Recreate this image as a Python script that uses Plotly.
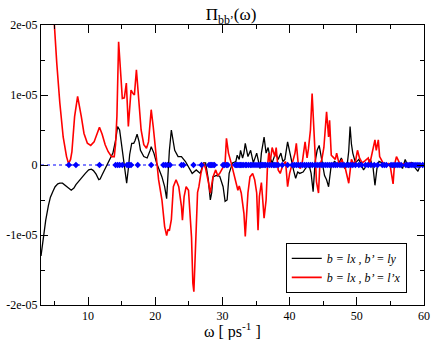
import numpy as np
import plotly.graph_objects as go

SCALE = 1e-6  # values below are in units of 1e-6

# b = lx , b' = ly  (black)
omega_black = [3.0, 3.4, 3.7, 4.1, 4.4, 4.8, 5.1, 5.5, 5.8, 6.2, 6.5, 7.0, 7.5, 7.9, 8.2, 8.7, 9.2, 9.6,
               10.1, 10.5, 10.8, 11.2, 11.6, 11.8, 12.1, 12.4, 13.0, 13.7, 14.1, 14.4, 14.7, 14.9, 15.2,
               15.5, 15.75, 16.0, 16.2, 16.5, 16.8, 17.0, 17.3, 17.6, 17.8, 18.3, 18.8, 19.25, 19.4, 19.8,
               20.2, 21.0, 21.4, 21.7, 21.9, 22.1, 22.4, 22.7, 22.9, 23.4, 23.9, 24.5, 25.0, 25.5, 26.1,
               26.7, 27.2, 27.5, 27.9, 28.2, 28.4, 28.6, 29.1, 29.6, 30.1, 30.4, 30.7, 31.0, 31.5, 32.0,
               32.2, 32.5, 32.7, 33.0, 33.2, 33.4, 33.8, 34.2, 34.6, 35.1, 35.6, 35.8, 36.2, 36.5, 36.8,
               37.1, 37.4, 37.9, 38.3, 38.7, 39.0, 39.3, 39.7, 40.2, 40.6, 40.9, 41.2, 41.5, 42.0, 42.5,
               42.9, 43.2, 43.5, 43.8, 44.1, 44.4, 44.8, 45.2, 45.5, 45.8, 46.2, 46.7, 47.2, 47.7, 48.2,
               48.6, 48.8, 49.0, 49.2, 49.4, 49.8, 50.3, 50.6, 51.0, 51.5, 52.0, 52.4, 52.7, 53.0, 53.3,
               53.8, 54.3, 54.8, 55.3, 55.8, 56.3, 56.8, 57.2, 57.7, 58.2, 58.6, 59.1, 59.5, 60.0]
pi_black = [-13.0, -10.0, -7.9, -5.8, -4.6, -3.7, -3.1, -2.7, -2.6, -2.6, -2.8, -3.2, -3.6, -3.3, -2.8,
            -2.2, -1.7, -1.2, -0.7, -0.6, -0.8, -1.3, -2.1, -2.0, -1.4, -0.8, 0.3, 1.7, 3.5, 5.5, 5.0,
            3.5, 1.7, -0.5, -2.6, -0.5, 1.5, 3.1, 3.1, 3.5, 4.4, 3.3, 2.1, 1.2, 1.0, 2.1, 2.6, 1.7,
            0.3, -1.7, -3.1, -4.8, -1.2, 2.0, 5.0, 3.0, 2.1, 1.2, 1.2, 0.5, -0.3, -1.2, -0.7,
            -1.2, 0.3, 0.3, -2.1, -5.0, -4.0, -1.7, -1.5, -1.6, -3.1, -5.2, -5.0, -1.2, 0.3, 0.5,
            1.4, 0.8, 2.1, 1.0, 1.7, 3.1, 1.2, 2.1, 0.3, 1.7, -0.5, 1.7, 4.0, 1.7, 2.5,
            1.0, 0.3, 1.7, 0.8, 1.7, 0.5, 0.8, 3.3, 0.8, -0.8, -1.9, -1.0, -1.2, -1.0, -0.3,
            0.0, -1.2, -3.8, 0.5, 2.1, 2.8, 0.5, -1.5, -2.1, -3.1, 0.0, 0.5, 0.0, 1.0, -0.5,
            0.3, 2.0, 5.5, 3.0, 1.7, 0.3, 0.8, 0.2, -0.7, 0.0, 0.8, -0.2, -2.9, -0.5, 0.5,
            0.3, 0.0, 0.2, -0.3, -0.2, 0.3, -0.5, 0.8, -0.4, 0.4, -0.3, -0.9, 0.1, 0.0]

# b = lx , b' = l'x  (red)
omega_red = [4.6, 5.0, 5.35, 5.8, 6.3, 6.8, 7.1, 7.4, 7.6, 8.0, 8.45, 9.0, 9.4, 9.9, 10.4, 10.9, 11.3,
             11.7, 12.1, 12.55, 13.0, 13.5, 13.9, 14.1, 14.3, 14.55, 14.9, 15.1, 15.4, 15.7, 16.0, 16.4,
             16.7, 16.9, 17.2, 17.5, 17.9, 18.3, 18.7, 19.0, 19.25, 19.4, 19.7, 20.1, 20.5, 21.0, 21.4,
             21.7, 21.9, 22.1, 22.4, 22.7, 23.1, 23.5, 23.9, 24.05, 24.3, 24.6, 24.95, 25.4, 25.6, 25.75,
             26.0, 26.3, 26.5, 26.8, 27.2, 27.5, 27.9, 28.2, 28.6, 29.0, 29.3, 29.6, 30.1, 30.4, 30.6,
             30.9, 31.3, 31.7, 32.0, 32.3, 32.5, 32.8, 33.2, 33.4, 33.8, 34.1, 34.5, 34.8, 35.1, 35.3,
             35.5, 35.8, 36.0, 36.2, 36.5, 36.7, 36.9, 37.1, 37.4, 37.8, 38.0, 38.3, 38.6, 39.0, 39.4,
             39.7, 40.0, 40.4, 40.8, 41.0, 41.3, 41.6, 41.9, 42.3, 42.6, 42.8, 43.1, 43.35, 43.6, 43.9,
             44.0, 44.3, 44.5, 44.8, 45.1, 45.5, 45.8, 45.95, 46.2, 46.4, 46.8, 47.0, 47.4, 47.8, 48.0,
             48.3, 48.6, 48.8, 49.2, 49.5, 49.8, 50.1, 50.4, 50.8, 51.2, 51.7, 51.9, 52.2, 52.4, 52.7,
             52.9, 53.2, 53.4, 53.9, 54.3, 54.7, 55.0, 55.2, 55.4, 55.6, 55.9, 56.1, 56.5, 57.0, 57.5,
             58.0, 58.5, 59.0, 59.5, 60.0]
pi_red = [26.0, 19.5, 14.5, 8.9, 4.0, 1.2, 0.2, 0.8, 1.9, 6.9, 9.8, 6.9, 4.5, 3.1, 2.8, 3.3, 4.3,
          5.4, 4.4, 2.9, 1.9, 1.2, 1.2, 3.0, 7.0, 17.6, 12.5, 9.5, 9.6, 11.7, 5.5, 10.7,
          10.2, 10.0, 13.6, 9.5, 5.0, 2.9, 2.4, 3.3, 6.0, 7.9, 5.5, 1.7, -2.1, -5.0, -8.8,
          -10.1, -9.2, -9.4, -7.8, -3.1, -2.1, -3.1, -5.9, -7.9, -4.5, -3.1, -3.6, -10.3, -16.9, -18.1,
          -12.5, -3.9, -3.1, -1.2, 0.3, -0.5, -2.4, -4.0, -1.7, -0.7, -1.5, -1.2, -0.3, 0.3, 3.8,
          1.7, 0.3, -1.2, -2.6, -3.6, -3.0, -4.0, -6.9, -10.2, -4.0, -1.7, -1.2, -2.1, -4.0, -9.3,
          -4.5, -2.5, -5.0, -7.6, -5.0, -0.3, 1.7, 0.3, 2.5, 1.2, 2.5, -0.7, -1.2, 0.0, 0.5,
          -3.1, -1.2, 0.3, 1.7, 3.1, 0.0, -0.5, 0.5, 3.3, 1.0, 2.3, 5.0, 10.2, 5.0, 0.0,
          -2.4, -4.0, 0.0, 0.8, 2.5, 7.6, 4.0, 6.4, 1.4, 1.2, 0.8, 1.7, 0.0, 0.8, 0.0,
          -0.5, -1.7, -2.6, 0.8, 0.2, 0.5, 2.1, 1.0, 0.3, 0.6, 1.0, 0.0, 1.2, 2.4, 3.6,
          2.1, 3.6, 1.2, 0.3, 0.0, 0.2, -0.3, -1.7, -2.7, 0.0, 1.2, 0.8, 0.0, 0.2, -0.2,
          0.3, -0.1, 0.1, -0.2, 0.0]

# mode frequencies (blue diamonds on the zero line)
omega_modes = [7.15, 8.2, 11.7, 14.1, 14.4, 14.7, 15.1, 15.8, 16.0, 16.2, 16.4, 17.4, 19.4, 21.2, 21.5,
               21.8, 22.2, 23.9, 24.2, 25.7, 26.9, 28.0, 28.2, 28.4, 28.6, 28.8, 30.1, 30.3, 30.6, 30.8,
               31.9, 32.1, 32.3, 32.5, 32.7, 32.9, 33.1, 33.4, 33.6, 33.9, 34.2, 34.4, 34.7, 35.0, 35.3,
               35.6, 35.8, 36.0, 36.2, 36.4, 36.7, 37.0, 37.3, 37.6, 37.8, 38.0, 38.3, 38.9, 39.7, 40.4,
               40.7, 41.0, 41.3, 41.6, 41.9, 42.2, 42.5, 42.8, 43.1, 43.4, 43.8, 44.1, 44.4, 44.7, 45.0,
               45.3, 45.6, 45.9, 46.2, 46.5, 46.8, 47.1, 47.5, 47.8, 48.1, 48.5, 48.8, 49.1, 49.4, 49.8,
               50.3, 50.7, 51.3, 51.7, 52.1, 52.6, 53.1, 53.8, 54.1, 54.4, 55.1, 55.4, 55.7, 56.0, 56.3,
               56.6, 57.3, 57.6, 57.9, 58.2, 58.5, 58.8, 59.1, 59.4, 59.8]
pi_modes = [0.0] * len(omega_modes)

x_ticks = [10, 20, 30, 40, 50, 60]
y_tick_vals = [-2e-05, -1e-05, 0, 1e-05, 2e-05]
y_tick_text = ["-2e-05", "-1e-05", "0", "1e-05", "2e-05"]
legend_names = ["<i>b = lx , b\u2019 = ly</i>", "<i>b = lx , b\u2019 = l\u2019x</i>"]

SERIF = "Liberation Serif"

fig = go.Figure()
fig.add_trace(go.Scatter(x=[3, 60], y=[0, 0], mode="lines",
                         line=dict(color="#0000ff", width=1, dash="dot"),
                         showlegend=False, hoverinfo="skip"))
fig.add_trace(go.Scatter(x=omega_black, y=np.array(pi_black) * SCALE, mode="lines",
                         line=dict(color="black", width=1.3), name=legend_names[0]))
fig.add_trace(go.Scatter(x=omega_red, y=np.array(pi_red) * SCALE, mode="lines",
                         line=dict(color="#ff0000", width=1.6), name=legend_names[1]))
fig.add_trace(go.Scatter(x=omega_modes, y=pi_modes, mode="markers",
                         marker=dict(symbol="diamond", size=5, color="#0000ff"),
                         showlegend=False))

axis_common = dict(showline=True, linecolor="black", linewidth=1, mirror="allticks",
                   ticks="inside", tickcolor="black", showgrid=False, zeroline=False,
                   tickfont=dict(family=SERIF, size=12, color="black"))

fig.update_xaxes(range=[3, 60], tickvals=x_ticks, ticklen=8, tickwidth=1,
                 minor=dict(ticks="inside", dtick=5, ticklen=4, tickcolor="black"),
                 **axis_common)
fig.update_yaxes(range=[-2e-05, 2e-05], tickvals=y_tick_vals, ticktext=y_tick_text,
                 ticklen=7, tickwidth=1,
                 minor=dict(ticks="inside", dtick=5e-06, ticklen=4, tickcolor="black"),
                 **axis_common)

fig.update_layout(
    width=436, height=340,
    margin=dict(l=32, r=6, t=25, b=35),
    paper_bgcolor="white", plot_bgcolor="white",
    font=dict(family=SERIF, color="black"),
    title=dict(text="\u03a0<sub>bb\u2019</sub>(\u03c9)", x=231 / 436, xanchor="center",
               y=1 - 14 / 340, yanchor="middle", yref="container",
               font=dict(family=SERIF, size=17, color="black")),
    annotations=[dict(text="\u03c9 [ ps<sup>-1</sup> ]", xref="paper", yref="paper",
                      x=0.5, y=-0.09, xanchor="center", yanchor="middle", showarrow=False,
                      font=dict(family=SERIF, size=16, color="black"))],
    legend=dict(x=0.955, y=0.222, xanchor="right", yanchor="top",
                bordercolor="black", borderwidth=1, bgcolor="white",
                font=dict(family=SERIF, size=12, color="black"),
                tracegroupgap=0, itemwidth=30),
    showlegend=True,
)

fig.write_html("out.html", config={"displayModeBar": False},
               post_script="document.body.style.margin='0px';")
